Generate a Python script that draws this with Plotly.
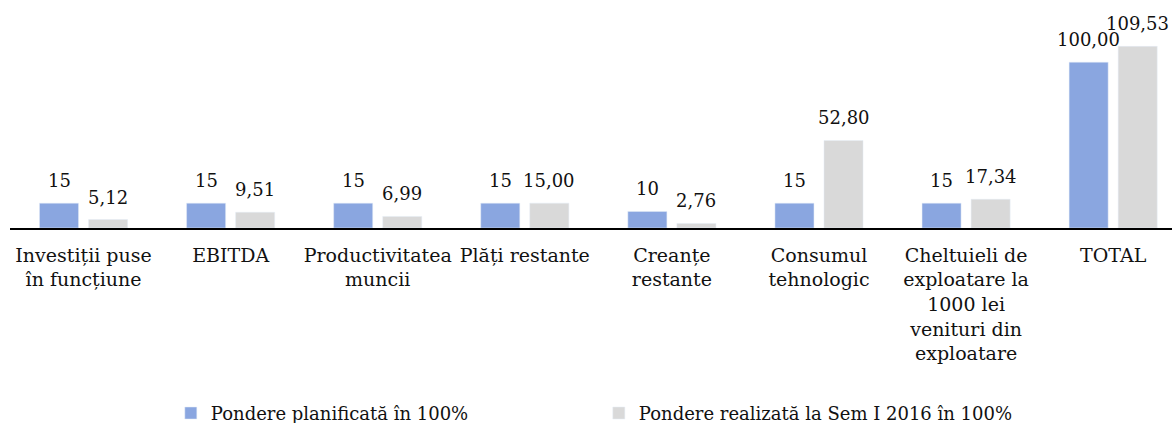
import plotly.graph_objects as go

categories = [
    "Investiții puse<br>în funcțiune",
    "EBITDA",
    "Productivitatea<br>muncii",
    "Plăți restante",
    "Creanțe<br>restante",
    "Consumul<br>tehnologic",
    "Cheltuieli de<br>exploatare la<br>1000 lei<br>venituri din<br>exploatare",
    "TOTAL",
]
planned = [15, 15, 15, 15, 10, 15, 15, 100.00]
planned_labels = ["15", "15", "15", "15", "10", "15", "15", "100,00"]
realized = [5.12, 9.51, 6.99, 15.00, 2.76, 52.80, 17.34, 109.53]
realized_labels = ["5,12", "9,51", "6,99", "15,00", "2,76", "52,80", "17,34", "109,53"]

series_names = ["Pondere planificată în 100%", "Pondere realizată la Sem I 2016 în 100%"]
colors = ["#8AA6E0", "#D9D9D9"]
FONT = "DejaVu Serif"
FS = 18
TXT = "#111111"

x_idx = list(range(len(categories)))

fig = go.Figure()
fig.add_trace(go.Bar(x=x_idx, y=planned, name=series_names[0], marker_color=colors[0]))
fig.add_trace(go.Bar(x=x_idx, y=realized, name=series_names[1], marker_color=colors[1]))

# data labels (group offset of each series = +/- half a bar slot)
slot = (1 - 0.333) / 2
for vals, labs, sgn in [(planned, planned_labels, -1), (realized, realized_labels, 1)]:
    for i, (v, t) in enumerate(zip(vals, labs)):
        fig.add_annotation(x=i + sgn * slot / 2, y=v, text=t, showarrow=False,
                           yanchor="bottom", yshift=10, xanchor="center",
                           font=dict(family=FONT, size=FS, color=TXT))

fig.update_layout(
    width=1172, height=423,
    barmode="group", bargap=0.333, bargroupgap=0.204,
    plot_bgcolor="white", paper_bgcolor="white",
    margin=dict(l=9.5, r=0, t=13, b=195.3, autoexpand=False),
    font=dict(family=FONT, size=FS, color=TXT),
    legend=dict(orientation="h", x=0.1384, xanchor="left", y=-0.862, yanchor="middle",
                entrywidth=383, entrywidthmode="pixels", itemwidth=30,
                font=dict(family=FONT, size=FS, color=TXT)),
)
fig.update_xaxes(range=[-0.5, 7.4], tickmode="array", tickvals=x_idx, ticktext=categories,
                 showline=True, linecolor="black", linewidth=1.5, ticks="",
                 ticklabelstandoff=9,
                 showgrid=False, zeroline=False, automargin=False,
                 tickfont=dict(family=FONT, size=19, color=TXT))
fig.update_yaxes(range=[0, 129.65], visible=False, showgrid=False, automargin=False)

fig.write_html(
    "out.html",
    config={"displayModeBar": False},
    post_script="document.body.style.margin='0';"
                "document.body.style.overflow='hidden';"
                "document.documentElement.style.overflow='hidden';",
)
